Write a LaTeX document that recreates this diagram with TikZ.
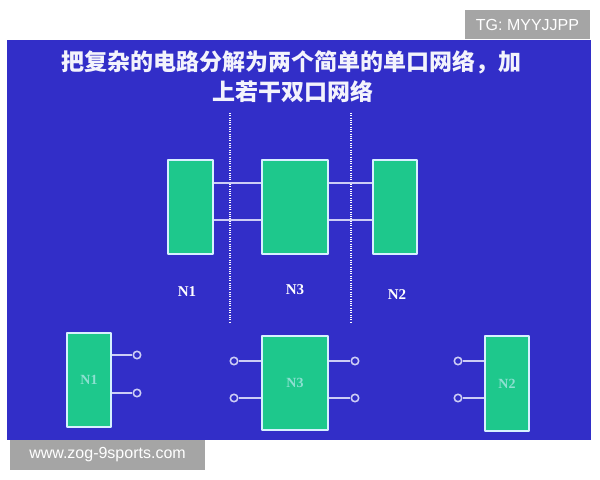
\documentclass[tikz,border=0pt]{standalone}
\usepackage[x11names, svgnames, rgb]{xcolor}
\usepackage{tikz}
\usetikzlibrary{arrows,shapes}
\usepackage{fontspec}
\setmainfont{Liberation Serif}
\setsansfont{Liberation Sans}
\newfontfamily\cjkfont{Noto Sans CJK SC}
\definecolor{bgblue}{RGB}{50,46,200}
\definecolor{netgreen}{RGB}{30,200,140}
\definecolor{rimwhite}{RGB}{215,240,255}
\definecolor{portwhite}{RGB}{205,205,245}
\definecolor{wmgray}{RGB}{165,165,165}

\begin{document}
\begin{tikzpicture}[line join=bevel,
  net/.style={draw=rimwhite,fill=netgreen,rectangle,line width=1.8pt,inner sep=0pt},
  port/.style={draw=portwhite,circle,line width=1.6pt,minimum size=7.5bp,inner sep=0pt},
  wire/.style={draw=portwhite,line width=1.6pt},
  lab/.style={text=white,font=\bfseries\fontsize{15bp}{18bp}\selectfont},
  wm/.style={fill=wmgray,text=white,font=\sffamily\fontsize{16bp}{19bp}\selectfont,inner sep=0pt},
]
\useasboundingbox (0bp,0bp) rectangle (600bp,480bp);
\fill [bgblue] (7bp,40bp) rectangle (591bp,440bp);
%%
\node (title1) at (291bp,418bp) [text=white!94!bgblue,font=\cjkfont\bfseries\fontsize{23bp}{26bp}\selectfont] {把复杂的电路分解为两个简单的单口网络，加};
\node (title2) at (293bp,388bp) [text=white!94!bgblue,font=\cjkfont\bfseries\fontsize{23bp}{26bp}\selectfont] {上若干双口网络};
%%
\begin{scope}[white,line width=1.1pt,dash pattern=on 1pt off 1.3pt]
  \coordinate (cutA top) at (230bp,367bp);
  \coordinate (cutA bot) at (230bp,158bp);
  \coordinate (cutB top) at (351bp,367bp);
  \coordinate (cutB bot) at (351bp,158bp);
  \draw (cutA top) -- (cutA bot);
  \draw (cutB top) -- (cutB bot);
\end{scope}
%%
\begin{scope}[thick]
  \coordinate (hi) at (0bp,297bp);
  \coordinate (lo) at (0bp,260bp);
  \node (N1 top) at (190.5bp,273bp) [net,minimum width=45bp,minimum height=94bp] {};
  \node (N3 top) at (295bp,273bp) [net,minimum width=66bp,minimum height=94bp] {};
  \node (N2 top) at (395bp,273bp) [net,minimum width=44bp,minimum height=94bp] {};
  \node (N1 lab) at (187bp,188bp) [lab] {N1};
  \node (N3 lab) at (295bp,190bp) [lab] {N3};
  \node (N2 lab) at (397bp,185bp) [lab] {N2};
\end{scope}
\begin{scope}[thick]
  \draw [wire] (N1 top.east |- hi) -- (N3 top.west |- hi);
  \draw [wire] (N1 top.east |- lo) -- (N3 top.west |- lo);
  \draw [wire] (N3 top.east |- hi) -- (N2 top.west |- hi);
  \draw [wire] (N3 top.east |- lo) -- (N2 top.west |- lo);
\end{scope}
%%
\begin{scope}[thick]
  \node (N1) at (89bp,100bp) [net,minimum width=44bp,minimum height=94bp,text=rimwhite!60!netgreen,font=\bfseries\fontsize{14bp}{17bp}\selectfont] {N1};
  \node (N3) at (295bp,97bp) [net,minimum width=66bp,minimum height=94bp,text=rimwhite!60!netgreen,font=\bfseries\fontsize{14bp}{17bp}\selectfont] {N3};
  \node (N2) at (507bp,96.5bp) [net,minimum width=44bp,minimum height=95bp,text=rimwhite!60!netgreen,font=\bfseries\fontsize{14bp}{17bp}\selectfont] {N2};
  \node (N1 a) at (137bp,125bp) [port] {};
  \node (N1 b) at (137bp,87bp) [port] {};
  \node (N3 a) at (234bp,119bp) [port] {};
  \node (N3 b) at (234bp,82bp) [port] {};
  \node (N3 c) at (355bp,119bp) [port] {};
  \node (N3 d) at (355bp,82bp) [port] {};
  \node (N2 a) at (458bp,119bp) [port] {};
  \node (N2 b) at (458bp,82bp) [port] {};
\end{scope}
\begin{scope}[thick]
  \draw [wire] (N1.east |- N1 a) -- (N1 a);
  \draw [wire] (N1.east |- N1 b) -- (N1 b);
  \draw [wire] (N3 a) -- (N3.west |- N3 a);
  \draw [wire] (N3 b) -- (N3.west |- N3 b);
  \draw [wire] (N3.east |- N3 c) -- (N3 c);
  \draw [wire] (N3.east |- N3 d) -- (N3 d);
  \draw [wire] (N2 a) -- (N2.west |- N2 a);
  \draw [wire] (N2 b) -- (N2.west |- N2 b);
\end{scope}
%%
\node (tg) at (527.5bp,455.5bp) [wm,minimum width=125bp,minimum height=29bp] {TG: MYYJJPP};
\node (site) at (107.5bp,25bp) [wm,minimum width=195bp,minimum height=30bp] {www.zog-9sports.com};
%
\end{tikzpicture}
\end{document}
